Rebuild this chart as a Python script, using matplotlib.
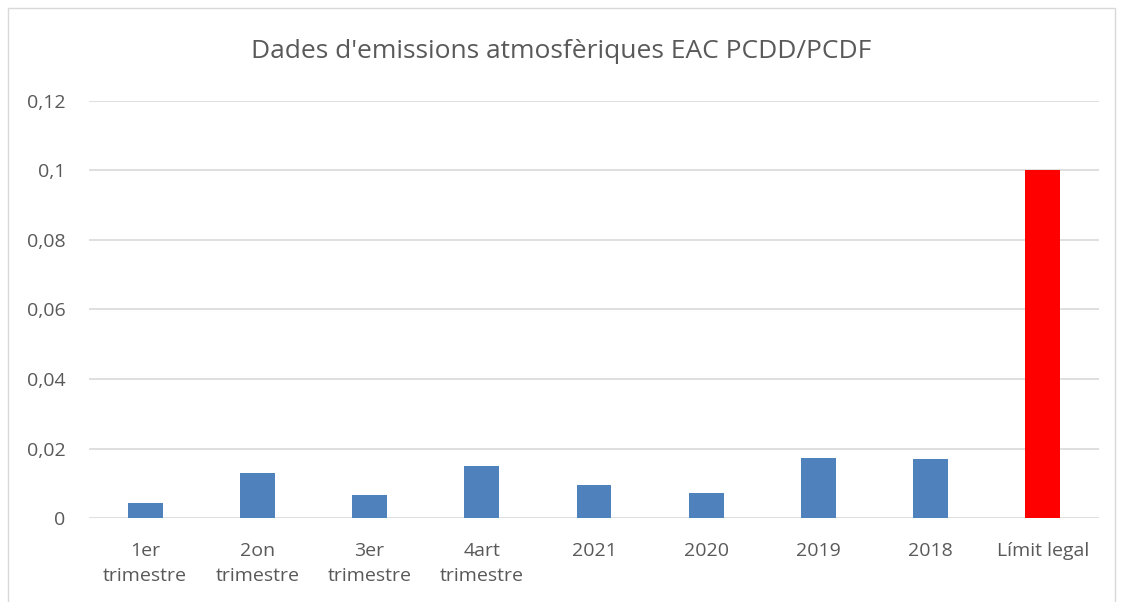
import matplotlib
matplotlib.use("Agg")
import matplotlib.pyplot as plt
from matplotlib.patches import Rectangle

categories = ["1er\ntrimestre", "2on\ntrimestre", "3er\ntrimestre", "4art\ntrimestre",
              "2021", "2020", "2019", "2018", "Límit legal"]
values = [0.0042, 0.0129, 0.0065, 0.0149, 0.0095, 0.0072, 0.0172, 0.0169, 0.1]
colors = ["#4F81BD"] * 8 + ["#FF0000"]
yticks = [0, 0.02, 0.04, 0.06, 0.08, 0.1, 0.12]
ytick_labels = ["0", "0,02", "0,04", "0,06", "0,08", "0,1", "0,12"]
title = "Dades d'emissions atmosfèriques EAC PCDD/PCDF"

plt.rcParams['font.family'] = ['Open Sans', 'DejaVu Sans']
txt = "#595959"

fig = plt.figure(figsize=(11.23, 6.02), dpi=100)
fig.patches.append(Rectangle((8/1123, -0.01), (1115-8)/1123, 1 - 8/602 + 0.01,
                             transform=fig.transFigure, fill=False,
                             edgecolor="#D9D9D9", linewidth=1))
ax = fig.add_axes([89/1123, 1 - 518/602, (1099-89)/1123, (518-101)/602])
x = list(range(len(categories)))
ax.bar(x, values, width=0.31, color=colors, edgecolor="none", zorder=3)
ax.set_xlim(-0.5, len(categories) - 0.5)
ax.set_ylim(0, 0.12)
ax.set_yticks(yticks)
ax.set_yticklabels(ytick_labels, color=txt, fontsize=14)
ax.tick_params(axis="y", length=0, pad=17)
ax.set_xticks(x)
ax.set_xticklabels(categories, color=txt, fontsize=14, linespacing=1.5)
ax.tick_params(axis="x", length=0, pad=17)
ax.grid(axis="y", color="#D9D9D9", linewidth=1.2, zorder=0)
for s in ax.spines.values():
    s.set_visible(False)
fig.text(0.5, 1 - 52/602, title, ha="center", va="center", fontsize=19, color=txt)
fig.savefig("out.png", dpi=100)
